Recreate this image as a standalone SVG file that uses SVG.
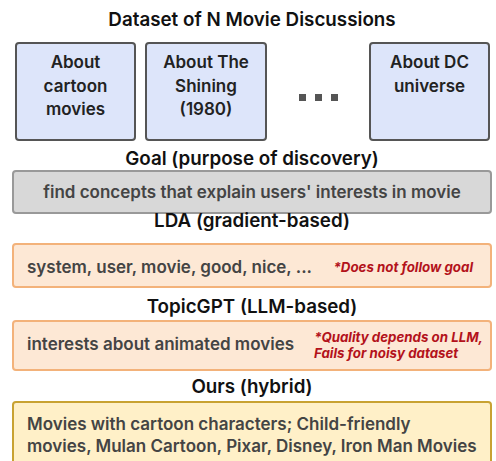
<svg xmlns="http://www.w3.org/2000/svg" width="496" height="461" viewBox="0 0 496 461">
  <style>
    text { font-family: Inter, "Noto Sans", "Liberation Sans", sans-serif; }
    .title { font-size: 18.8px; font-weight: 600; fill: #111; text-anchor: middle; }
    .doc { fill: #dde5fa; stroke: #555; stroke-width: 2; }
    .doctext { font-size: 17px; font-weight: 600; fill: #222; text-anchor: middle; }
    .goal { fill: #d8d8d8; stroke: #999; stroke-width: 2; }
    .base { fill: #fde8d5; stroke: #f3b27a; stroke-width: 2; }
    .ours { fill: #fff0c8; stroke: #c8a232; stroke-width: 2; }
    .body { font-size: 17px; font-weight: 600; fill: #444; }
    .note { font-size: 13.3px; font-weight: 700; font-style: italic; fill: #b3121b; }
    .dot { fill: #555; }
  </style>
  <rect width="496" height="461" fill="#fff"/>

  <text class="title" x="252" y="26">Dataset of N Movie Discussions</text>

  <g id="doc-cartoon">
    <rect class="doc" x="16" y="43" width="119" height="97" rx="3"/>
    <text class="doctext" x="75.5" y="68">About</text>
    <text class="doctext" x="75.5" y="92">cartoon</text>
    <text class="doctext" x="75.5" y="115">movies</text>
  </g>
  <g id="doc-shining">
    <rect class="doc" x="146" y="43" width="120" height="97" rx="3"/>
    <text class="doctext" x="206" y="68">About The</text>
    <text class="doctext" x="206" y="92">Shining</text>
    <text class="doctext" x="206" y="115">(1980)</text>
  </g>
  <g id="doc-ellipsis">
    <rect class="dot" x="299" y="94" width="7" height="7"/>
    <rect class="dot" x="315" y="94" width="7" height="7"/>
    <rect class="dot" x="331" y="94" width="7" height="7"/>
  </g>
  <g id="doc-dc">
    <rect class="doc" x="370" y="43" width="119" height="97" rx="3"/>
    <text class="doctext" x="429.5" y="68">About DC</text>
    <text class="doctext" x="429.5" y="92">universe</text>
  </g>

  <g id="goal">
    <text class="title" x="252" y="165">Goal (purpose of discovery)</text>
    <rect class="goal" x="13" y="171" width="478" height="42" rx="3"/>
    <text class="body" x="252" y="198" text-anchor="middle">find concepts that explain users' interests in movie</text>
  </g>

  <g id="lda">
    <text class="title" x="252" y="227">LDA (gradient-based)</text>
    <rect class="base" x="13" y="244" width="478" height="43" rx="3"/>
    <text class="body" x="27" y="273">system, user, movie, good, nice, ...</text>
    <text class="note" x="473" y="272" text-anchor="end">*Does not follow goal</text>
  </g>

  <g id="topicgpt">
    <text class="title" x="252" y="313">TopicGPT (LLM-based)</text>
    <rect class="base" x="13" y="321" width="478" height="49" rx="3"/>
    <text class="body" x="27" y="350">interests about animated movies</text>
    <text class="note" x="483" y="342" text-anchor="end">*Quality depends on LLM,</text>
    <text class="note" x="314" y="358">Fails for noisy dataset</text>
  </g>

  <g id="ours">
    <text class="title" x="252" y="393">Ours (hybrid)</text>
    <rect class="ours" x="13" y="402" width="478" height="70" rx="3"/>
    <text class="body" x="27" y="430">Movies with cartoon characters; Child-friendly</text>
    <text class="body" x="27" y="452">movies, Mulan Cartoon, Pixar, Disney, Iron Man Movies</text>
  </g>
</svg>
